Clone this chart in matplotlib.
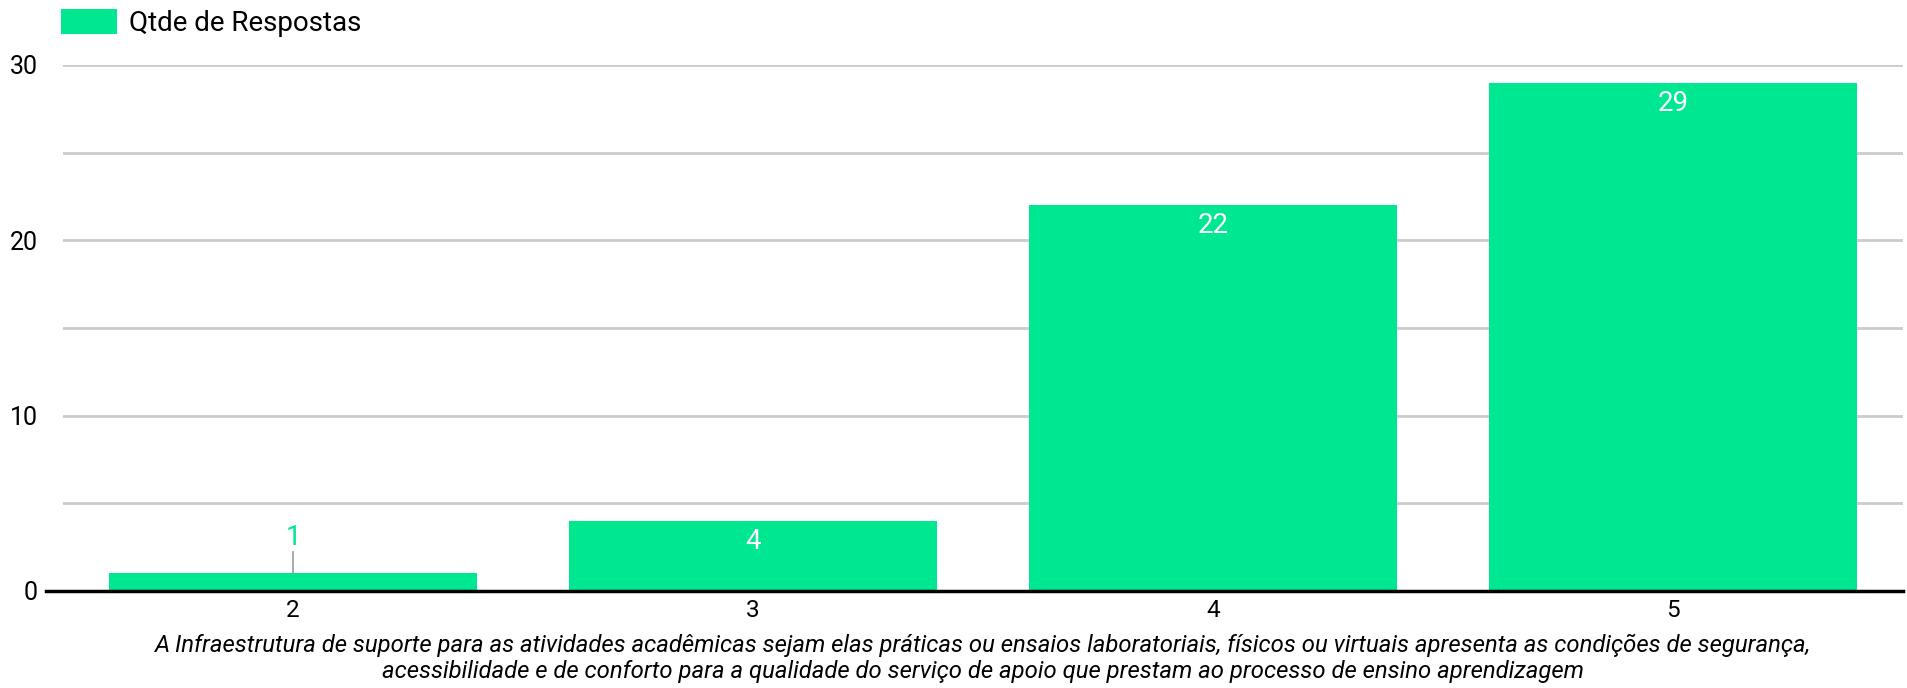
import matplotlib
matplotlib.use("Agg")
import matplotlib.pyplot as plt

categories = ["2", "3", "4", "5"]
values = [1, 4, 22, 29]
series_name = "Qtde de Respostas"
xlabel = ("A Infraestrutura de suporte para as atividades acadêmicas sejam elas práticas ou ensaios laboratoriais, físicos ou virtuais apresenta as condições de segurança,\n"
          "acessibilidade e de conforto para a qualidade do serviço de apoio que prestam ao processo de ensino aprendizagem")

plt.rcParams['font.family'] = ['Roboto', 'DejaVu Sans']
green = '#00E791'

fig = plt.figure(figsize=(19.07, 6.88), dpi=100)
ax = fig.add_axes([63/1907, 97/688, 1840/1907, 526/688])

x = list(range(len(categories)))
bars = ax.bar(x, values, width=0.8, color=green, zorder=3, label=series_name)

ax.set_xlim(-0.5, len(categories) - 0.5)
ax.set_ylim(0, 30)
ax.set_yticks([0, 10, 20, 30])
ax.set_yticks([5, 15, 25], minor=True)
ax.tick_params(axis='y', which='both', length=0, labelsize=18, pad=18)
ax.tick_params(axis='x', length=0, labelsize=17.5, pad=6)
ax.set_xticks(x)
ax.set_xticklabels(categories)
ax.grid(axis='y', which='both', color='#cccccc', linewidth=2, zorder=0)
for s in ['top', 'right', 'left', 'bottom']:
    ax.spines[s].set_visible(False)
ax.plot([-0.5 - 17/460, len(categories) - 0.5], [0, 0], color='black', lw=2.5,
        clip_on=False, zorder=4)

for xi, v in zip(x, values):
    if v >= 3:
        ax.text(xi, v - 0.4, str(v), ha='center', va='top', color='white', fontsize=20, zorder=5)
    else:
        ax.plot([xi, xi], [v, v + 1.25], color='#999999', lw=1.2, zorder=4)
        ax.text(xi, v + 1.3, str(v), ha='center', va='bottom', color=green, fontsize=20, zorder=5)

ax.set_xlabel(xlabel, fontsize=17.2, style='italic', labelpad=8, linespacing=1.2)

leg = ax.legend(loc='lower left', bbox_to_anchor=(61/1907, 1 - 37/688), bbox_transform=fig.transFigure,
                frameon=False, fontsize=20, handlelength=2.0, handleheight=1.0, handletextpad=0.45,
                borderaxespad=0, borderpad=0)

fig.savefig("out.png", dpi=100)
